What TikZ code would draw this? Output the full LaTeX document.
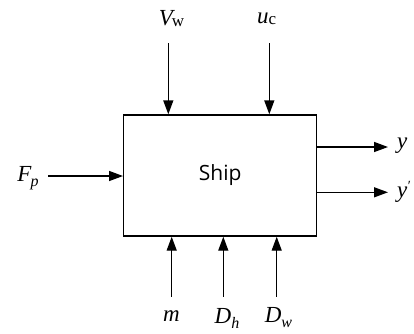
\documentclass[tikz,border=0pt]{standalone}
\usepackage{fontspec}
\newfontfamily\shipfont{Open Sans}
\newfontfamily\lblfont{Liberation Serif}
\usetikzlibrary{arrows.meta}
\newcommand\lowsub[1]{\raisebox{-0.22em}{\fontsize{16}{16}\selectfont #1}}
\newcommand\lowsubup[1]{\raisebox{-0.06em}{\fontsize{17}{17}\selectfont\upshape #1}}
\begin{document}
\begin{tikzpicture}[x=1pt,y=-1pt,
  sig/.style={line width=1.4pt,-{Triangle[length=14pt,width=10pt]}},
  lbl/.style={inner sep=0pt,font=\lblfont\fontsize{23}{27}\selectfont\itshape}]
\useasboundingbox (0,0) rectangle (414,333);
\node[draw,line width=1.4pt,minimum width=193pt,minimum height=121pt,inner sep=0pt,
  font=\shipfont\fontsize{21}{25}\selectfont] (ship) at (220.2,175.5) {Ship};
% top inputs
\coordinate (vt) at (168.3,43);
\coordinate (ut) at (269.3,43);
\node[lbl] (vw) at (171.5,18.5) {V\kern-1pt\lowsubup{w}};
\node[lbl] (uc) at (266.7,18.5) {u\lowsubup{c}};
\draw[sig] (vt) -- (vt |- ship.north);
\draw[sig] (ut) -- (ut |- ship.north);
% left input
\node[lbl] (fp) at (28,178) {F\kern-1pt\lowsub{p}};
\coordinate (fs) at (48,176);
\draw[sig] (fs) -- (fs -| ship.west);
% right outputs
\coordinate (ya) at (388,147);
\coordinate (yb) at (388,192.3);
\draw[sig] (ya -| ship.east) -- (ya);
\draw[sig] (yb -| ship.east) -- (yb);
\node[lbl,anchor=west] (y1) at (397,146) {y};
\node[lbl,anchor=west] (y2) at (397,192) {y\kern0.5pt{\upshape\fontsize{14}{14}\selectfont\raisebox{0.45em}{′}}};
% bottom inputs
\coordinate (mb) at (171.7,296.7);
\coordinate (hb) at (223.3,296.7);
\coordinate (wb) at (276.7,296.7);
\draw[sig] (mb) -- (mb |- ship.south);
\draw[sig] (hb) -- (hb |- ship.south);
\draw[sig] (wb) -- (wb |- ship.south);
\node[lbl] (m) at (171.5,316) {m};
\node[lbl] (dh) at (227,318) {D\lowsub{h}};
\node[lbl] (dw) at (278.5,318) {D\lowsub{w}};
\end{tikzpicture}
\end{document}
